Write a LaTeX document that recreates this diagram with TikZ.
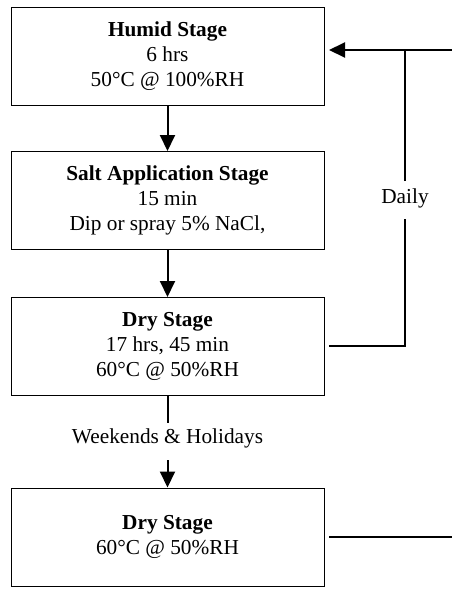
\documentclass[tikz,border=0pt]{standalone}
\usepackage{fontspec}
\setmainfont{Liberation Serif}
\usetikzlibrary{arrows.meta}
\begin{document}
\begin{tikzpicture}[x=1pt,y=-1pt,
  stage/.style={draw, line width=1pt, minimum width=313pt, minimum height=98pt,
    inner sep=0pt, align=center, font=\fontsize{21.3}{25}\selectfont},
  flow/.style={line width=2pt},
  flowarrow/.style={flow, -{Triangle[length=16pt,width=15pt]}},
  lbl/.style={inner sep=0pt, font=\fontsize{21.3}{25}\selectfont}]
\useasboundingbox (0,0) rectangle (452,590);

% stages
\node[stage] (humid) at (167.5,56)  {\textbf{Humid Stage}\\6 hrs\\50°C @ 100\%RH};
\node[stage] (salt)  at (167.5,200.5) {\textbf{Salt Application Stage}\\15 min\\Dip or spray 5\% NaCl,};
\node[stage] (dry)   at (167.5,346.5) {\textbf{Dry Stage}\\17 hrs, 45 min\\60°C @ 50\%RH};
\node[stage] (hold)  at (167.5,537) {\textbf{Dry Stage}\\60°C @ 50\%RH};

% labels
\node[lbl, anchor=base] (daily) at (405,203) {Daily};
\node[lbl, anchor=base] (wkend) at (167.5,443) {Weekends \& Holidays};

% connector end points
\coordinate (wkTop)    at (167.5,423);
\coordinate (wkBot)    at (167.5,460);
\coordinate (dailyHi)  at (405,181);
\coordinate (dailyLo)  at (405,219);
\coordinate (loopJoin) at (405,50);
\coordinate (loopEdge) at (452,50);
\coordinate (humidIn)  at (329,50);
\coordinate (dryOut)   at (329,346);
\coordinate (holdOut)  at (329,537);
\coordinate (holdEdge) at (452,537);

% main flow
\draw[flowarrow] (humid.south) -- (salt.north);
\draw[flowarrow] (salt.south) -- (dry.north);
\draw[flow] (dry.south) -- (wkTop);
\draw[flowarrow] (wkBot) -- (hold.north);

% daily loop back to the humid stage
\draw[flow] (dryOut) -| (dailyLo);
\draw[flow] (dailyHi) -- (loopJoin);
\draw[flowarrow] (loopEdge) -- (humidIn);

% weekend line leaving to the right
\draw[flow] (holdOut) -- (holdEdge);
\end{tikzpicture}
\end{document}
